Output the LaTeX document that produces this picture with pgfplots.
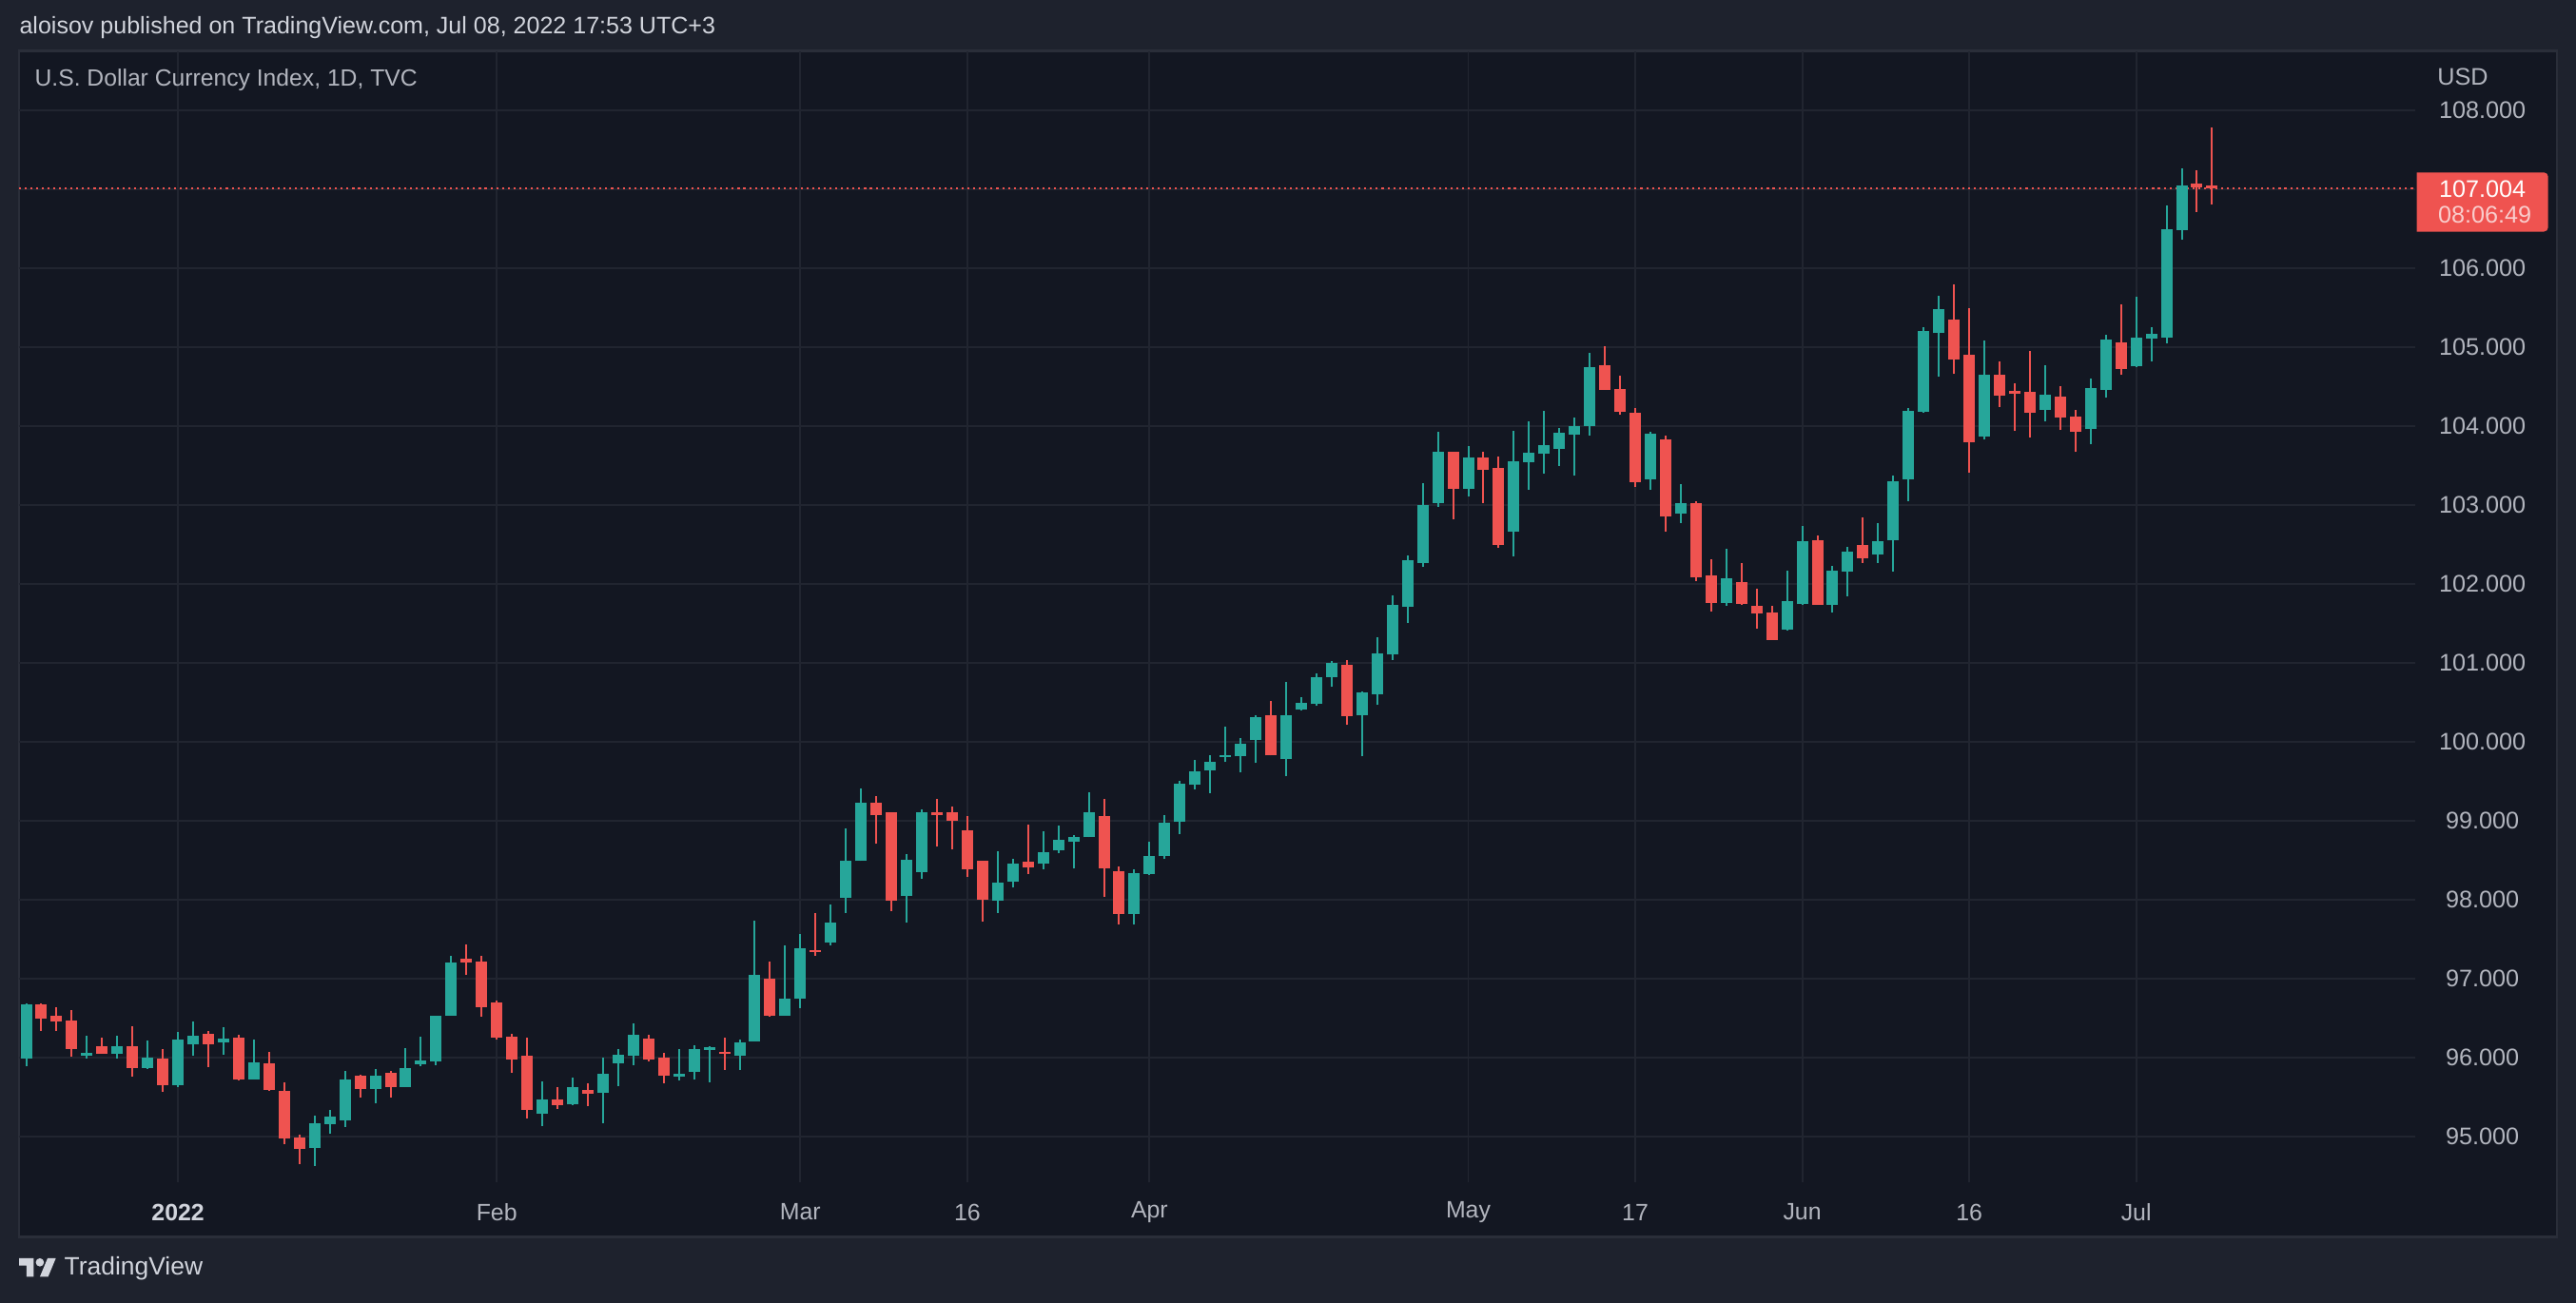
\documentclass[border=0pt]{standalone}
\usepackage{pgfplots}
\pgfplotsset{compat=1.18}
\usepackage{pgfplotstable}
\usepackage{fontspec}
\setmainfont{Liberation Sans}
\definecolor{outerc}{HTML}{1E222D}
\definecolor{panec}{HTML}{131722}
\definecolor{framec}{HTML}{2A2E39}
\definecolor{gridc}{HTML}{212530}
\definecolor{labelc}{HTML}{B2B5BE}
\definecolor{toptextc}{HTML}{D1D4DC}
\definecolor{upc}{HTML}{26A69A}
\definecolor{downc}{HTML}{EF5350}
\definecolor{pinkc}{HTML}{F9CDCC}
\pgfplotstableread{
x o h l c
-10 95.99 96.69 95.89 96.675
-6 96.028 96.277 95.99 96.06
-4 96.052 96.277 95.99 96.145
-2 95.871 96.217 95.859 96.0
0 95.655 96.325 95.631 96.229
1 96.173 96.458 96.028 96.277
3 96.197 96.386 96.04 96.241
5 95.727 96.229 95.727 95.940
9 94.859 95.265 94.631 95.169
10 95.161 95.337 95.04 95.253
11 95.209 95.831 95.124 95.723
13 95.606 95.855 95.426 95.771
15 95.631 96.12 95.628 95.867
16 95.918 96.264 95.893 95.962
17 95.954 96.529 95.905 96.529
18 96.533 97.29 96.533 97.205
24 95.29 95.696 95.133 95.467
26 95.41 95.744 95.398 95.624
28 95.555 95.998 95.169 95.793
29 95.93 96.107 95.64 96.034
30 96.026 96.433 95.905 96.288
33 95.761 96.107 95.712 95.793
34 95.821 96.155 95.724 96.107
35 96.099 96.143 95.688 96.131
37 96.026 96.227 95.845 96.191
38 96.207 97.736 96.207 97.048
40 96.533 97.423 96.533 96.746
41 96.747 97.573 96.627 97.381
43 97.457 97.946 97.421 97.717
44 98.022 98.908 97.830 98.499
45 98.491 99.413 98.491 99.232
48 98.046 98.583 97.709 98.511
49 98.347 99.148 98.263 99.112
54 97.986 98.619 97.830 98.222
55 98.226 98.523 98.154 98.463
57 98.455 98.872 98.383 98.607
58 98.623 98.944 98.587 98.764
59 98.731 98.824 98.395 98.8
60 98.792 99.365 98.792 99.112
63 97.818 98.391 97.685 98.343
64 98.323 98.739 98.311 98.559
65 98.551 99.076 98.515 98.98
66 98.984 99.509 98.828 99.473
67 99.453 99.767 99.40 99.622
68 99.634 99.827 99.35 99.743
69 99.807 100.189 99.743 99.827
70 99.815 100.044 99.61 99.972
71 100.02 100.334 99.731 100.31
73 99.779 100.756 99.562 100.334
74 100.406 100.563 100.394 100.49
75 100.478 100.864 100.454 100.816
76 100.816 101.021 100.695 100.997
78 100.334 100.635 99.815 100.623
79 100.599 101.323 100.466 101.118
80 101.106 101.853 101.033 101.733
81 101.709 102.36 101.504 102.3
82 102.263 103.276 102.215 102.999
83 103.023 103.928 102.975 103.674
85 103.204 103.747 103.108 103.602
88 102.661 103.94 102.348 103.554
89 103.542 104.06 103.192 103.662
90 103.65 104.193 103.397 103.759
91 103.711 103.976 103.494 103.916
92 103.892 104.104 103.373 103.996
93 104.0 104.924 103.88 104.743
97 103.325 103.924 103.193 103.9
99 102.892 103.261 102.771 103.02
102 101.759 102.442 101.723 102.068
106 101.422 102.165 101.41 101.779
107 101.747 102.731 101.735 102.538
109 101.735 102.225 101.639 102.165
110 102.157 102.466 101.843 102.406
112 102.373 102.767 102.265 102.538
113 102.554 103.369 102.157 103.297
114 103.325 104.225 103.048 104.189
115 104.181 105.25 104.17 105.198
116 105.174 105.644 104.619 105.475
119 103.863 105.077 103.827 104.643
123 104.201 104.764 104.056 104.39
126 103.96 104.595 103.767 104.474
127 104.454 105.15 104.358 105.09
129 104.756 105.632 104.744 105.114
130 105.106 105.246 104.816 105.162
131 105.118 106.79 105.045 106.488
132 106.48 107.26 106.36 107.043
}\upT
\pgfplotstableread{
x o h l c
-9 96.675 96.69 96.337 96.498
-8 96.53 96.64 96.337 96.458
-7 96.47 96.60 96.016 96.11
-5 96.145 96.253 96.05 96.052
-3 96.145 96.398 95.763 95.871
-1 95.988 96.108 95.570 95.655
2 96.30 96.337 95.884 96.173
4 96.253 96.289 95.715 95.727
6 95.928 96.072 95.582 95.594
7 95.578 95.687 94.908 94.98
8 94.988 95.024 94.655 94.847
12 95.771 95.783 95.498 95.606
14 95.807 95.831 95.498 95.631
19 97.254 97.435 97.048 97.205
20 97.217 97.29 96.521 96.642
21 96.698 96.722 96.231 96.256
22 96.264 96.30 95.809 95.978
23 96.022 96.252 95.229 95.338
25 95.467 95.624 95.35 95.398
27 95.588 95.672 95.386 95.543
31 96.239 96.288 95.954 95.978
32 95.998 96.058 95.676 95.773
36 96.07 96.25 95.845 96.05
39 97.0 97.217 96.521 96.533
42 97.357 97.826 97.289 97.337
46 99.232 99.317 98.707 99.068
47 99.112 99.112 97.854 97.986
50 99.112 99.281 98.671 99.068
51 99.112 99.184 98.635 98.996
52 98.884 99.064 98.287 98.383
53 98.499 98.499 97.721 97.998
56 98.487 98.956 98.323 98.407
61 99.064 99.281 98.034 98.395
62 98.367 98.427 97.685 97.818
72 100.334 100.515 99.827 99.827
77 100.973 101.033 100.213 100.322
84 103.674 103.674 102.818 103.204
86 103.602 103.674 103.023 103.445
87 103.469 103.614 102.456 102.492
94 104.767 105.008 104.458 104.458
95 104.466 104.635 104.145 104.181
96 104.165 104.225 103.229 103.289
98 103.827 103.876 102.663 102.855
100 103.02 103.044 102.036 102.084
101 102.104 102.309 101.651 101.759
103 102.02 102.261 101.735 101.747
104 101.719 101.936 101.434 101.627
105 101.635 101.719 101.289 101.289
108 102.55 102.61 101.735 101.735
111 102.49 102.839 102.265 102.325
117 105.343 105.789 104.655 104.84
118 104.896 105.487 103.413 103.791
120 104.643 104.812 104.237 104.382
121 104.438 104.535 103.936 104.406
122 104.426 104.945 103.851 104.165
124 104.366 104.51 103.948 104.105
125 104.113 104.209 103.67 103.924
128 105.053 105.536 104.647 104.72
133 107.067 107.236 106.71 107.023
134 107.043 107.779 106.806 107.004
}\downT
\begin{document}
\begin{tikzpicture}[x=1pt,y=1pt]
\fill[outerc] (0,0) rectangle (1568,793);
\fill[panec] (11.5,40) rectangle (1556.5,762);
\draw[framec, line width=1.2pt] (11.5,40) rectangle (1556.5,762);
\begin{axis}[
  at={(11.5pt,73pt)}, anchor=south west,
  scale only axis, width=1458.5pt, height=689pt,
  xmin=-10.48, xmax=147.37, ymin=94.418, ymax=108.749,
  axis line style={draw=none},
  major tick length=0pt,
  xtick={0,21,41,52,64,85,96,107,118,129},
  xticklabels={{\bfseries\color{toptextc}2022},Feb,Mar,16,Apr,May,17,Jun,16,Jul},
  ytick={95,96,...,108},
  yticklabel pos=right,
  grid=major,
  major grid style={draw=gridc, line width=1.1pt},
  xticklabel style={font=\fontsize{14.4}{16}\selectfont, text=labelc, anchor=center, yshift=-18pt},
  yticklabel style={font=\fontsize{14.6}{16}\selectfont, text=labelc, anchor=center, xshift=41pt,
    /pgf/number format/.cd, fixed, fixed zerofill, precision=3, assume math mode=true},
]
\addplot[draw=downc, line width=1.16pt, dash pattern=on 1.2pt off 2.3pt, forget plot] coordinates {(-10.48,107.004) (147.37,107.004)};
\addplot[draw=none, mark=none, forget plot, error bars/.cd, y dir=plus, y explicit, error mark=none, error bar style={draw=upc, line width=1.16pt}]
  table[x=x, y=l, y error plus expr=\thisrow{h}-\thisrow{l}] {\upT};
\addplot[draw=none, mark=none, forget plot, error bars/.cd, y dir=plus, y explicit, error mark=none, error bar style={draw=upc, line width=6.95pt}]
  table[x=x, y=o, y error plus expr={max(\thisrow{c}-\thisrow{o},0.025)}] {\upT};
\addplot[draw=none, mark=none, forget plot, error bars/.cd, y dir=plus, y explicit, error mark=none, error bar style={draw=downc, line width=1.16pt}]
  table[x=x, y=l, y error plus expr=\thisrow{h}-\thisrow{l}] {\downT};
\addplot[draw=none, mark=none, forget plot, error bars/.cd, y dir=plus, y explicit, error mark=none, error bar style={draw=downc, line width=6.95pt}]
  table[x=x, y=c, y error plus expr={max(\thisrow{o}-\thisrow{c},0.025)}] {\downT};
\end{axis}
% price label
\fill[downc] (1471,652) -- (1471,688) [rounded corners=2.5pt] -- (1551,688) -- (1551,652) [sharp corners] -- cycle;
\node[text=white, font=\fontsize{14.6}{16}\selectfont, inner sep=0pt] at (1511,678) {107.004};
\node[text=pinkc, font=\fontsize{14.6}{16}\selectfont, inner sep=0pt] at (1512.5,662) {08:06:49};
\node[text=labelc, font=\fontsize{14.6}{16}\selectfont, inner sep=0pt, anchor=west] at (1483.5,746) {USD};
% texts
\node[text=toptextc, font=\fontsize{14.5}{16}\selectfont, inner sep=0pt, anchor=west] at (11.7,776) {aloisov published on TradingView.com, Jul 08, 2022 17:53 UTC+3};
\node[text=labelc, font=\fontsize{14.3}{16}\selectfont, inner sep=0pt, anchor=west] at (21,744) {U.S. Dollar Currency Index, 1D, TVC};
% logo
\begin{scope}[shift={(11.7,29.5)}, x=0.628pt, y=-0.628pt]
\fill[toptextc] (0,4) -- (14,4) -- (14,22) -- (7,22) -- (7,11) -- (0,11) -- cycle;
\fill[toptextc] (20,22) -- (27.5,4) -- (35.5,4) -- (28,22) -- cycle;
\fill[toptextc] (20,8) circle (4);
\end{scope}
\node[text=toptextc, font=\fontsize{15.3}{17}\selectfont, inner sep=0pt, anchor=west] at (39,21) {TradingView};
\end{tikzpicture}
\end{document}
